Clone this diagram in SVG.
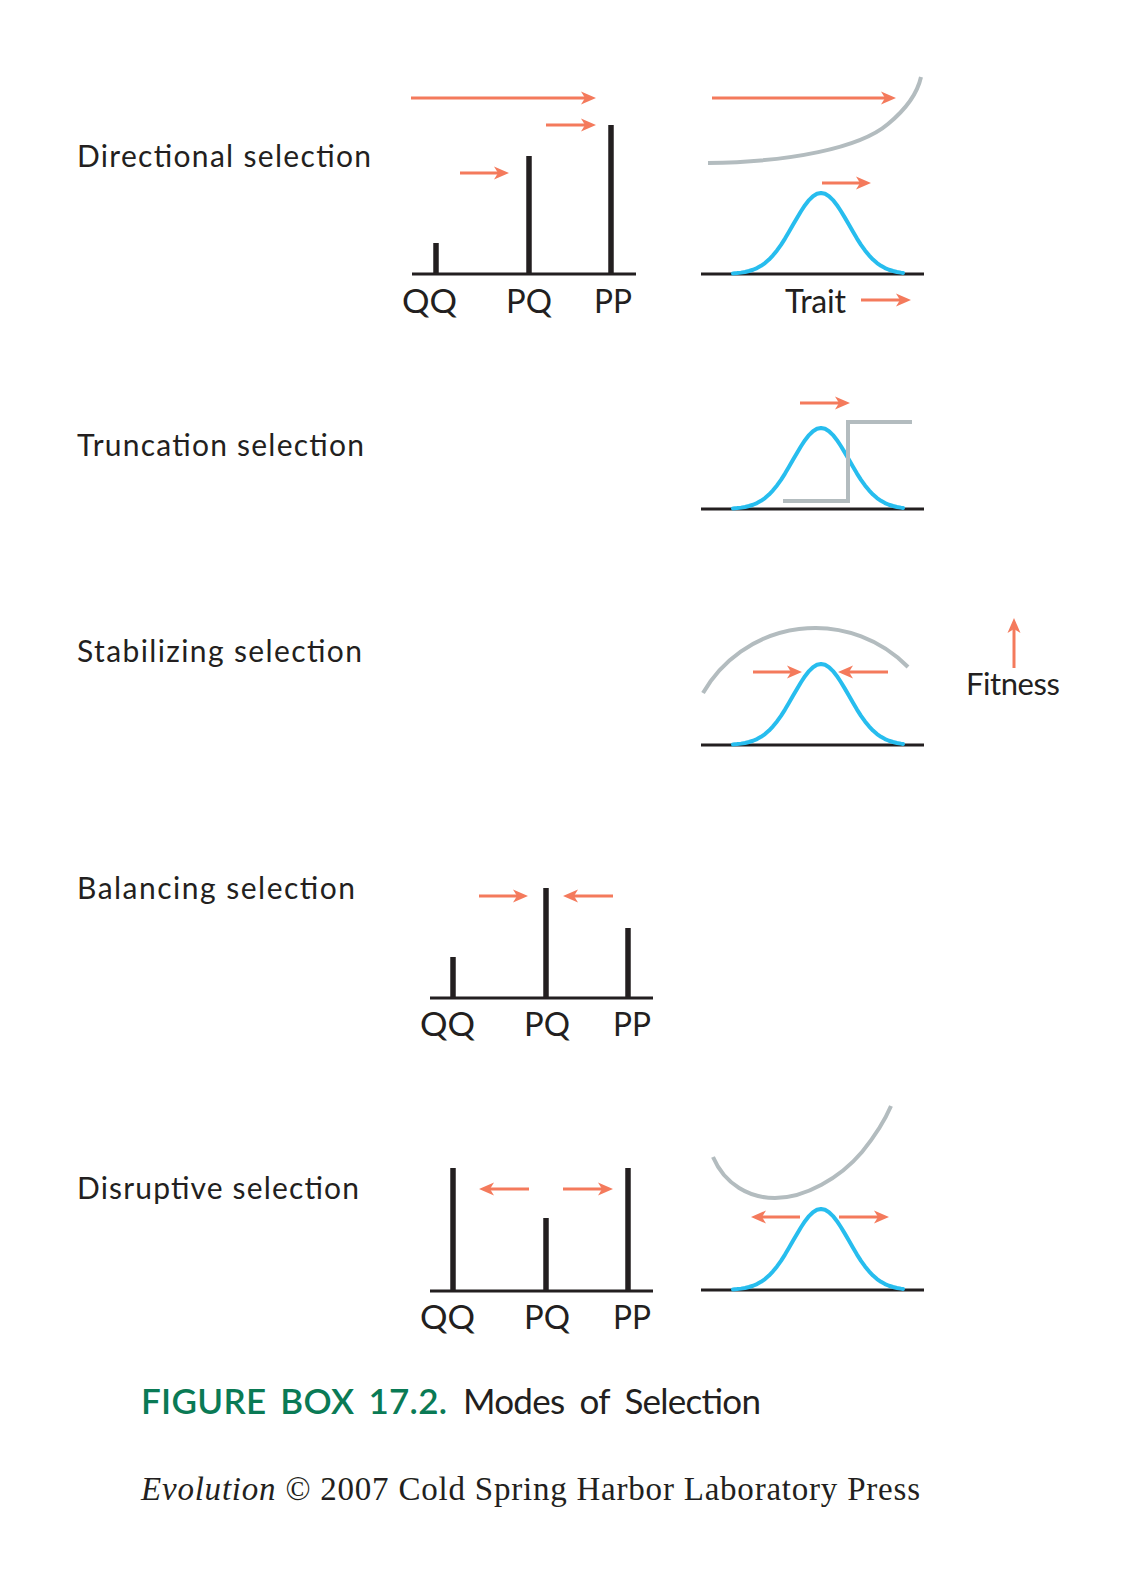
<svg xmlns="http://www.w3.org/2000/svg" width="1134" height="1584" viewBox="0 0 1134 1584">
<defs>
<style>
.lbl{font-family:Lato,"Open Sans","DejaVu Sans",sans-serif;font-size:30px;fill:#231f20}
.gen{font-family:Lato,"Open Sans","DejaVu Sans",sans-serif;font-size:32px;fill:#231f20}
.cap{font-family:Lato,"Open Sans","DejaVu Sans",sans-serif;font-size:35px;word-spacing:7px}
.cred{font-family:"Liberation Serif","Times New Roman",serif;font-size:33px;fill:#231f20}
.base{stroke:#231f20;stroke-width:3;fill:none}
.bar{stroke:#231f20;stroke-width:5.5}
.bell{stroke:#27bdee;stroke-width:4;fill:none;stroke-linejoin:round;stroke-linecap:round}
.fit{stroke:#b3bcbf;stroke-width:4;fill:none}
.arr{stroke:#f47a5c;stroke-width:3;fill:none;marker-end:url(#ah)}
</style>
<marker id="ah" markerUnits="userSpaceOnUse" viewBox="0 0 16 14" markerWidth="16" markerHeight="14" refX="4" refY="7" orient="auto">
<path d="M0,0.5 L15,7 L0,13.5 L4,7 Z" fill="#f47a5c"/>
</marker>
<path id="bellp" class="bell" d="M-88,-0.58 L-84,-0.9 L-80,-1.37 L-76,-2.03 L-72,-2.97 L-68,-4.24 L-64,-5.94 L-60,-8.15 L-56,-10.96 L-52,-14.44 L-48,-18.64 L-44,-23.56 L-40,-29.19 L-36,-35.45 L-32,-42.16 L-28,-49.13 L-24,-56.1 L-20,-62.76 L-16,-68.8 L-12,-73.9 L-8,-77.76 L-4,-80.18 L0,-81 L4,-80.18 L8,-77.76 L12,-73.9 L16,-68.8 L20,-62.76 L24,-56.1 L28,-49.13 L32,-42.16 L36,-35.45 L40,-29.19 L44,-23.56 L48,-18.64 L52,-14.44 L56,-10.96 L60,-8.15 L64,-5.94 L68,-4.24 L72,-2.97 L76,-2.03 L80,-1.37 L82,-1.1"/>
</defs>
<rect width="1134" height="1584" fill="#ffffff"/>

<g id="labels">
<text class="lbl" x="77" y="167" textLength="294">Directional selection</text>
<text class="lbl" x="77" y="456" textLength="287">Truncation selection</text>
<text class="lbl" x="77" y="662" textLength="285">Stabilizing selection</text>
<text class="lbl" x="77" y="899" textLength="278">Balancing selection</text>
<text class="lbl" x="77" y="1199" textLength="282">Disruptive selection</text>
</g>

<g id="directional-genotypes">
<line class="base" x1="412" y1="274" x2="636" y2="274"/>
<line class="bar" x1="436" y1="274" x2="436" y2="243"/>
<line class="bar" x1="529" y1="274" x2="529" y2="156"/>
<line class="bar" x1="611" y1="274" x2="611" y2="125"/>
<text class="gen" x="402" y="313" textLength="55" lengthAdjust="spacingAndGlyphs">QQ</text>
<text class="gen" x="506" y="313" textLength="46" lengthAdjust="spacingAndGlyphs">PQ</text>
<text class="gen" x="594" y="313" textLength="38" lengthAdjust="spacingAndGlyphs">PP</text>
</g>

<g id="directional-trait">
<path class="fit" d="M708,163 C790,162 860,148 888,124 C905,110 917,95 921,77"/>
<line class="base" x1="701" y1="274" x2="924" y2="274"/>
<use href="#bellp" transform="translate(821,274)"/>
<text class="gen" x="785" y="313" textLength="61">Trait</text>
</g>

<g id="truncation-trait">
<line class="base" x1="701" y1="509" x2="924" y2="509"/>
<use href="#bellp" transform="translate(821,509)"/>
<path class="fit" d="M783,501 H848 V422 H912"/>
</g>

<g id="stabilizing-trait">
<path class="fit" d="M703,693 A129.5,129.5 0 0 1 908,667"/>
<line class="base" x1="701" y1="745" x2="924" y2="745"/>
<use href="#bellp" transform="translate(821,745)"/>
</g>

<g id="fitness-key">
<text class="gen" x="966" y="695" textLength="94" style="font-size:31px">Fitness</text>
</g>

<g id="balancing-genotypes">
<line class="base" x1="430" y1="998" x2="653" y2="998"/>
<line class="bar" x1="453" y1="998" x2="453" y2="957"/>
<line class="bar" x1="546" y1="998" x2="546" y2="888"/>
<line class="bar" x1="628" y1="998" x2="628" y2="928"/>
<text class="gen" x="420" y="1036" textLength="55" lengthAdjust="spacingAndGlyphs">QQ</text>
<text class="gen" x="524" y="1036" textLength="46" lengthAdjust="spacingAndGlyphs">PQ</text>
<text class="gen" x="613" y="1036" textLength="38" lengthAdjust="spacingAndGlyphs">PP</text>
</g>

<g id="disruptive-genotypes">
<line class="base" x1="430" y1="1291" x2="653" y2="1291"/>
<line class="bar" x1="453" y1="1291" x2="453" y2="1168"/>
<line class="bar" x1="546" y1="1291" x2="546" y2="1218"/>
<line class="bar" x1="628" y1="1291" x2="628" y2="1168"/>
<text class="gen" x="420" y="1329" textLength="55" lengthAdjust="spacingAndGlyphs">QQ</text>
<text class="gen" x="524" y="1329" textLength="46" lengthAdjust="spacingAndGlyphs">PQ</text>
<text class="gen" x="613" y="1329" textLength="38" lengthAdjust="spacingAndGlyphs">PP</text>
</g>

<g id="disruptive-trait">
<path class="fit" d="M713,1157 C725,1185 750,1198 775,1198 C805,1198 840,1178 862,1152 C875,1136 885,1120 891,1106"/>
<line class="base" x1="701" y1="1290" x2="924" y2="1290"/>
<use href="#bellp" transform="translate(821,1290)"/>
</g>

<g id="arrows">
<line class="arr" x1="411" y1="98" x2="585" y2="98"/>
<line class="arr" x1="546" y1="125" x2="585" y2="125"/>
<line class="arr" x1="460" y1="173" x2="498" y2="173"/>
<line class="arr" x1="712" y1="98" x2="885" y2="98"/>
<line class="arr" x1="822" y1="183" x2="860" y2="183"/>
<line class="arr" x1="861" y1="300" x2="900" y2="300"/>
<line class="arr" x1="800" y1="403" x2="839" y2="403"/>
<line class="arr" x1="753" y1="672" x2="791" y2="672"/>
<line class="arr" x1="888" y1="672" x2="849" y2="672"/>
<line class="arr" x1="1014" y1="668" x2="1014" y2="629"/>
<line class="arr" x1="479" y1="896" x2="517" y2="896"/>
<line class="arr" x1="613" y1="896" x2="574" y2="896"/>
<line class="arr" x1="529" y1="1189" x2="490" y2="1189"/>
<line class="arr" x1="563" y1="1189" x2="602" y2="1189"/>
<line class="arr" x1="800" y1="1217" x2="762" y2="1217"/>
<line class="arr" x1="839" y1="1217" x2="878" y2="1217"/>
</g>

<g id="caption">
<text class="cap" x="141" y="1414" fill="#0a7a55" font-weight="600" textLength="306" style="word-spacing:5px">FIGURE BOX 17.2.</text>
<text class="cap" x="463" y="1414" fill="#231f20" textLength="298">Modes of Selection</text>
</g>

<g id="credit">
<text class="cred" x="141" y="1500" textLength="779"><tspan font-style="italic">Evolution</tspan> © 2007 Cold Spring Harbor Laboratory Press</text>
</g>
</svg>
